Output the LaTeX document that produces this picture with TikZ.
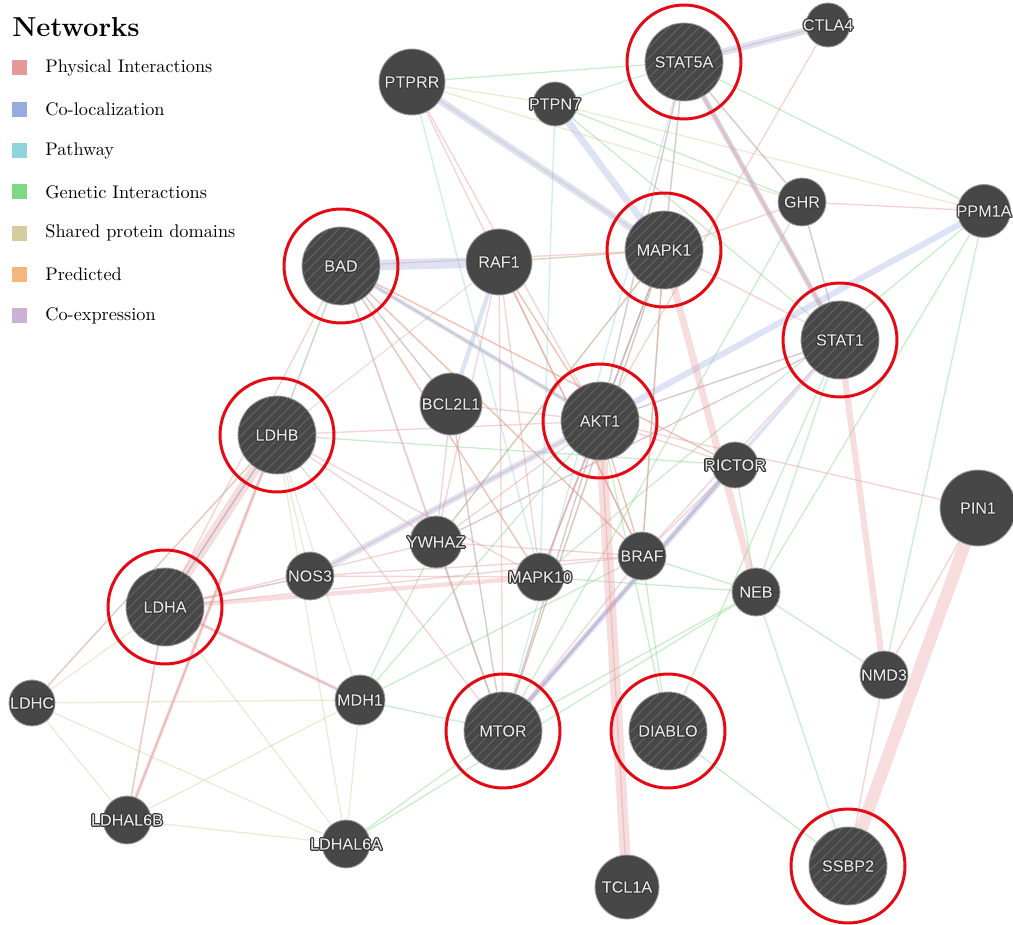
\documentclass[tikz,border=0pt]{standalone}
\usepackage{fontspec}
\newfontfamily\genefont{Liberation Sans}
\usetikzlibrary{backgrounds,patterns.meta}

\definecolor{physcol}{HTML}{E8979A}
\definecolor{coloccol}{HTML}{98ABDE}
\definecolor{pathcol}{HTML}{8FD4DA}
\definecolor{genecol}{HTML}{80D884}
\definecolor{sharedcol}{HTML}{D5CE9C}
\definecolor{predcol}{HTML}{F5B67C}
\definecolor{coexpcol}{HTML}{CBB2D6}
\definecolor{nodegrey}{HTML}{474747}
\definecolor{rimgrey}{HTML}{9C9C9C}
\definecolor{hatchgrey}{HTML}{626262}
\definecolor{labelgrey}{HTML}{E6E6E6}
\definecolor{ringred}{HTML}{E50914}

% light label with a dark outline around the glyphs, kept out of the node size
\newcommand\halo[1]{\makebox[0pt]{\special{pdf:gsave}\special{pdf:literal direct 6 Tr 0.22 0.22 0.22 RG 1.5 w 1 j}#1\special{pdf:literal 0 Tr 0.9 0.9 0.9 rg -5000 -5000 10000 10000 re f}\special{pdf:grestore}}}

\tikzset{
  gene/.style={circle, fill=nodegrey, draw=rimgrey, line width=0.5pt, inner sep=0pt,
    text=labelgrey, font=\genefont\fontsize{9.2}{10}\selectfont, minimum size=0.96cm},
  midgene/.style={gene, minimum size=1.32cm},
  query/.style={gene, minimum size=1.56cm,
    postaction={pattern={Lines[angle=45,distance=4pt,line width=0.6pt]}, pattern color=hatchgrey}},
  ring/.style={draw=ringred, line width=1.7pt},
  link/.style={line width=0.75pt, draw opacity=0.42},
  band/.style={line width=#1, draw opacity=0.32},
  phys/.style={link, draw=physcol},
  coloc/.style={link, draw=coloccol},
  pathway/.style={link, draw=pathcol},
  genetic/.style={link, draw=genecol},
  shared/.style={link, draw=sharedcol},
  predict/.style={link, draw=predcol},
  coexp/.style={link, draw=coexpcol},
}

\begin{document}
\begin{tikzpicture}[x=0.02cm,y=-0.02cm]
\useasboundingbox (0,0) rectangle (1013,925);

% legend
\node[anchor=west, inner sep=0pt, font=\bfseries\fontsize{15.6}{18}\selectfont] (nettitle) at (12,27) {Networks};
\foreach \lbl/\col [count=\i] in {Physical Interactions/physcol, Co-localization/coloccol,
    Pathway/pathcol, Genetic Interactions/genecol, Shared protein domains/sharedcol,
    Predicted/predcol, Co-expression/coexpcol} {
  \fill[\col] (12,68+41.3*\i-41.3-7.5) rectangle (27,68+41.3*\i-41.3+7.5);
  \node[anchor=west, inner sep=0pt, font=\fontsize{10.4}{12}\selectfont] (leg\i) at (45,68+41.3*\i-41.3) {\lbl};
}

% genes
\node[midgene] (ptprr) at (412,82) {\halo{PTPRR}};
\node[gene, minimum size=0.88cm] (ptpn7) at (555,104) {\halo{PTPN7}};
\node[query] (stat5a) at (684,62) {\halo{STAT5A}};
\node[gene, minimum size=0.88cm] (ctla4) at (828,25) {\halo{CTLA4}};
\node[gene] (ghr) at (802,202) {\halo{GHR}};
\node[gene, minimum size=1.06cm] (ppm1a) at (984,211) {\halo{PPM1A}};
\node[query] (bad) at (341,266) {\halo{BAD}};
\node[midgene] (raf1) at (499,262) {\halo{RAF1}};
\node[query] (mapk1) at (664,250) {\halo{MAPK1}};
\node[query] (stat1) at (840,340) {\halo{STAT1}};
\node[gene, minimum size=1.24cm] (bcl2l1) at (451,404) {\halo{BCL2L1}};
\node[query] (akt1) at (600,421) {\halo{AKT1}};
\node[query] (ldhb) at (277,435) {\halo{LDHB}};
\node[gene, minimum size=0.92cm] (rictor) at (735,465) {\halo{RICTOR}};
\node[gene, minimum size=1.52cm] (pin1) at (978,508) {\halo{PIN1}};
\node[gene, minimum size=1.04cm] (ywhaz) at (436,542) {\halo{YWHAZ}};
\node[gene] (nos3) at (310,576) {\halo{NOS3}};
\node[gene] (braf) at (642,556) {\halo{BRAF}};
\node[gene] (mapk10) at (540,577) {\halo{MAPK10}};
\node[gene] (neb) at (756,592) {\halo{NEB}};
\node[query] (ldha) at (165,607) {\halo{LDHA}};
\node[gene] (nmd3) at (884,675) {\halo{NMD3}};
\node[gene, minimum size=0.92cm] (ldhc) at (32,703) {\halo{LDHC}};
\node[gene, minimum size=1cm] (mdh1) at (360,700) {\halo{MDH1}};
\node[query] (mtor) at (503,731) {\halo{MTOR}};
\node[query] (diablo) at (668,731) {\halo{DIABLO}};
\node[gene] (ldhal6b) at (127,820) {\halo{LDHAL6B}};
\node[gene] (ldhal6a) at (346,844) {\halo{LDHAL6A}};
\node[midgene, minimum size=1.28cm] (tcl1a) at (627,887) {\halo{TCL1A}};
\node[query] (ssbp2) at (848,866) {\halo{SSBP2}};

\foreach \g in {stat5a,bad,mapk1,stat1,akt1,ldhb,ldha,mtor,diablo,ssbp2}
  \draw[ring] (\g) circle[radius=1.14cm];

\begin{scope}[on background layer]
\fill[white] (0,0) rectangle (1013,925);
% shared protein domains
\foreach \a/\b in {ldha/ldhb, ldha/ldhc, ldha/ldhal6a, ldha/ldhal6b, ldha/mdh1, ldhb/ldhc,
    ldhb/ldhal6a, ldhb/ldhal6b, ldhb/mdh1, ldhc/ldhal6a, ldhc/ldhal6b, ldhc/mdh1,
    ldhal6a/ldhal6b, ldhal6a/mdh1, ldhal6b/mdh1, ldhb/nos3, ptprr/ptpn7, ptpn7/ppm1a,
    ptprr/ghr, mapk1/mapk10, raf1/braf, stat5a/stat1}
  \draw[shared] (\a) -- (\b);
% genetic interactions
\foreach \a/\b in {mapk1/mtor, stat5a/ppm1a, ppm1a/neb, ppm1a/nmd3, ppm1a/mapk10, neb/nmd3,
    neb/ssbp2, neb/braf, neb/mtor, neb/mapk10, diablo/ssbp2, diablo/braf, mdh1/mtor,
    mdh1/ywhaz, mdh1/braf, ldhal6a/mtor, bad/ldhb, ywhaz/mtor, stat1/neb, rictor/neb,
    ghr/mtor, ldhb/rictor, ptprr/stat5a, ptpn7/stat1, stat1/diablo, mdh1/akt1,
    ldhal6a/neb, mapk1/ywhaz, akt1/diablo, ptpn7/ghr}
  \draw[genetic] (\a) -- (\b);
% pathway
\foreach \a/\b in {ptprr/mapk10, ptpn7/mapk10, ptpn7/stat5a, stat5a/mapk1, stat5a/akt1,
    stat1/akt1, mapk1/akt1, bad/bcl2l1, raf1/mapk1, braf/mapk1, mtor/akt1, rictor/mtor,
    bad/akt1, ghr/stat5a, ghr/stat1, stat1/ywhaz, bcl2l1/mtor, ldhb/ldha, stat5a/mtor}
  \draw[pathway] (\a) -- (\b);
% predicted and co-expression
\foreach \a/\b in {bad/akt1, bad/braf, raf1/akt1, akt1/braf, mapk1/braf, ptprr/mapk1,
    bad/mapk10, raf1/mapk1, bad/rictor}
  \draw[predict] (\a) -- (\b);
\foreach \a/\b in {ldha/mdh1, ldhb/raf1, akt1/mapk10, bad/mtor, ldhb/bad, ldha/nos3}
  \draw[coexp] (\a) -- (\b);
% co-localization
\foreach \a/\b/\w in {bad/raf1/6pt, ptprr/mapk1/4pt, ptpn7/mapk1/4pt, stat5a/ctla4/4pt,
    stat5a/stat1/3pt, akt1/ppm1a/3.5pt, nos3/akt1/3.5pt, rictor/mtor/3pt, stat1/mtor/2pt,
    raf1/bcl2l1/2.5pt, bad/akt1/2.5pt}
  \draw[coloc, band=\w] (\a) -- (\b);
\foreach \a/\b in {ldhb/ldha, mapk1/akt1}
  \draw[coloc] (\a) -- (\b);
% physical interactions
\foreach \a/\b in {ldhb/ldhc, ldhb/ldhal6b, ldha/ldhal6b, ldha/nos3, ldha/braf,
    ldha/ywhaz, ldhb/ywhaz, ldhb/akt1, ldhb/mapk10, ldhb/mtor, bad/bcl2l1, bad/ywhaz,
    bad/mapk10, bad/braf, bad/rictor, bad/mapk1, raf1/ywhaz, raf1/akt1,
    raf1/braf, raf1/mtor, raf1/mapk10, bcl2l1/ywhaz, bcl2l1/akt1, bcl2l1/mtor, akt1/mtor,
    akt1/rictor, akt1/ywhaz, akt1/braf, akt1/mapk10, akt1/pin1, akt1/stat1, mapk1/stat5a,
    mapk1/stat1, mapk1/ghr, mapk1/braf, mapk1/mtor, mapk1/ywhaz, mapk1/mapk10, stat5a/ghr,
    stat5a/ctla4, stat5a/akt1, ctla4/akt1, ghr/ppm1a, ghr/stat1, stat1/braf, ptprr/akt1,
    ptprr/braf, nos3/akt1, nos3/mapk10, nos3/braf, mtor/braf, mtor/rictor, braf/rictor,
    tcl1a/akt1, nmd3/ssbp2, nmd3/pin1, ywhaz/mtor, ywhaz/braf, stat1/ywhaz, bad/ldha}
  \draw[phys] (\a) -- (\b);
\foreach \a/\b/\w in {ldhb/ldha/6pt, ldhb/ldhal6b/2pt, akt1/tcl1a/6pt, mapk1/neb/4pt,
    stat1/nmd3/3.5pt, pin1/ssbp2/7pt, stat5a/stat1/2.5pt, ldha/mapk10/2.5pt, ldha/mdh1/2pt}
  \draw[phys, band=\w] (\a) -- (\b);
\end{scope}
\end{tikzpicture}
\end{document}
